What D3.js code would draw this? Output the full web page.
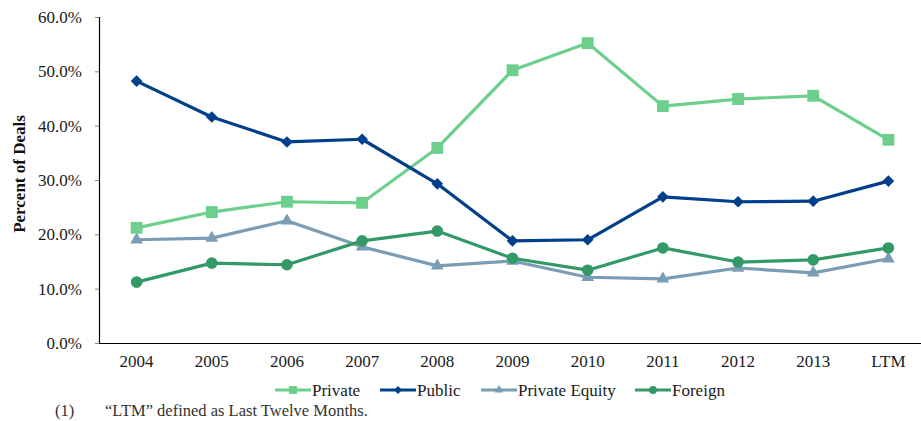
<!DOCTYPE html>
<html>
<head>
<meta charset="utf-8">
<script src="https://cdn.jsdelivr.net/npm/d3@7"></script>
<style>
  body { margin: 0; background: #fff; }
  svg { display: block; font-family: "Liberation Serif", "Times New Roman", serif; }
</style>
</head>
<body>
<svg id="chart" width="921" height="421"></svg>
<script>
// Share of deals by buyer type, 2004 through last twelve months
const categories = ["2004", "2005", "2006", "2007", "2008", "2009", "2010", "2011", "2012", "2013", "LTM"];
const privateVals = [21.2, 24.1, 26.0, 25.8, 35.9, 50.2, 55.2, 43.6, 44.9, 45.5, 37.4];
const publicVals = [48.2, 41.6, 37.0, 37.5, 29.3, 18.8, 19.0, 26.9, 26.0, 26.1, 29.8];
const privateEquityVals = [19.0, 19.3, 22.5, 17.7, 14.2, 15.1, 12.1, 11.8, 13.8, 12.9, 15.5];
const foreignVals = [11.2, 14.7, 14.4, 18.8, 20.6, 15.6, 13.4, 17.5, 14.9, 15.3, 17.5];
const yTicks = [0, 10, 20, 30, 40, 50, 60];

// Diamonds are drawn as squares turned 45 degrees
const series = [
  { name: "Private", values: privateVals, color: "#6ccf8c", symbol: d3.symbolSquare, size: 140, rot: 0 },
  { name: "Public", values: publicVals, color: "#003f8a", symbol: d3.symbolSquare, size: 68, rot: 45 },
  { name: "Private Equity", values: privateEquityVals, color: "#7a9cb5", symbol: d3.symbolTriangle, size: 70, rot: 0 },
  { name: "Foreign", values: foreignVals, color: "#339966", symbol: d3.symbolCircle, size: 105, rot: 0 }
];

const svg = d3.select("#chart");
const plotLeft = 99, plotRight = 926, plotTop = 17, plotBottom = 343;
const fontSize = 17;

const x = d3.scaleBand().domain(categories).range([plotLeft, plotRight]);
const cx = c => x(c) + x.bandwidth() / 2;
const y = d3.scaleLinear().domain([0, 60]).range([plotBottom, plotTop]);

// Y axis
const yAxis = svg.append("g")
  .attr("transform", `translate(${plotLeft},0)`)
  .call(d3.axisLeft(y).tickValues(yTicks).tickSize(4).tickPadding(13)
    .tickFormat(d => d.toFixed(1) + "%"));
yAxis.select(".domain").attr("stroke", "#000").attr("stroke-width", 1.2);
yAxis.selectAll(".tick line").attr("stroke", "#888");
yAxis.selectAll("text").attr("font-size", fontSize).attr("fill", "#1a1a1a")
  .attr("font-family", "Liberation Serif");

// X axis
const xAxis = svg.append("g")
  .attr("transform", `translate(0,${plotBottom})`)
  .call(d3.axisBottom(x).tickSize(0).tickPadding(12));
xAxis.select(".domain").attr("stroke", "#000").attr("stroke-width", 1.2);
xAxis.selectAll("text").attr("font-size", fontSize).attr("fill", "#1a1a1a")
  .attr("font-family", "Liberation Serif");

// Y axis title
svg.append("text")
  .attr("transform", "translate(25,174) rotate(-90)")
  .attr("text-anchor", "middle")
  .attr("font-size", 17)
  .attr("font-weight", "bold")
  .attr("fill", "#111")
  .text("Percent of Deals");

// Lines and markers
const line = d3.line().x((d, i) => cx(categories[i])).y(d => y(d));
series.forEach(s => {
  svg.append("path")
    .datum(s.values)
    .attr("fill", "none")
    .attr("stroke", s.color)
    .attr("stroke-width", 3.2)
    .attr("stroke-linejoin", "round")
    .attr("d", line);
  svg.append("g").selectAll("path")
    .data(s.values)
    .join("path")
    .attr("transform", (d, i) => `translate(${cx(categories[i])},${y(d)}) rotate(${s.rot})`)
    .attr("d", d3.symbol().type(s.symbol).size(s.size))
    .attr("fill", s.color);
});

// Legend
const legendItems = [
  { s: series[0], x: 275, tx: 312 },
  { s: series[1], x: 380, tx: 417 },
  { s: series[2], x: 481, tx: 518 },
  { s: series[3], x: 635, tx: 672 }
];
const legend = svg.append("g");
legendItems.forEach(it => {
  const ly = 390;
  legend.append("line")
    .attr("x1", it.x).attr("x2", it.tx - 1)
    .attr("y1", ly).attr("y2", ly)
    .attr("stroke", it.s.color).attr("stroke-width", 3.2);
  legend.append("path")
    .attr("transform", `translate(${(it.x + it.tx - 1) / 2},${ly}) rotate(${it.s.rot})`)
    .attr("d", d3.symbol().type(it.s.symbol).size(it.s.size * 0.45))
    .attr("fill", it.s.color);
  legend.append("text")
    .attr("x", it.tx).attr("y", ly + 6)
    .attr("font-size", fontSize).attr("fill", "#1a1a1a")
    .text(it.s.name);
});

// Footnote
svg.append("text").attr("x", 55).attr("y", 416)
  .attr("font-size", 16.5).attr("fill", "#333").text("(1)");
svg.append("text").attr("x", 105).attr("y", 416)
  .attr("font-size", 16.5).attr("fill", "#333").text("\u201CLTM\u201D defined as Last Twelve Months.");
</script>
</body>
</html>
